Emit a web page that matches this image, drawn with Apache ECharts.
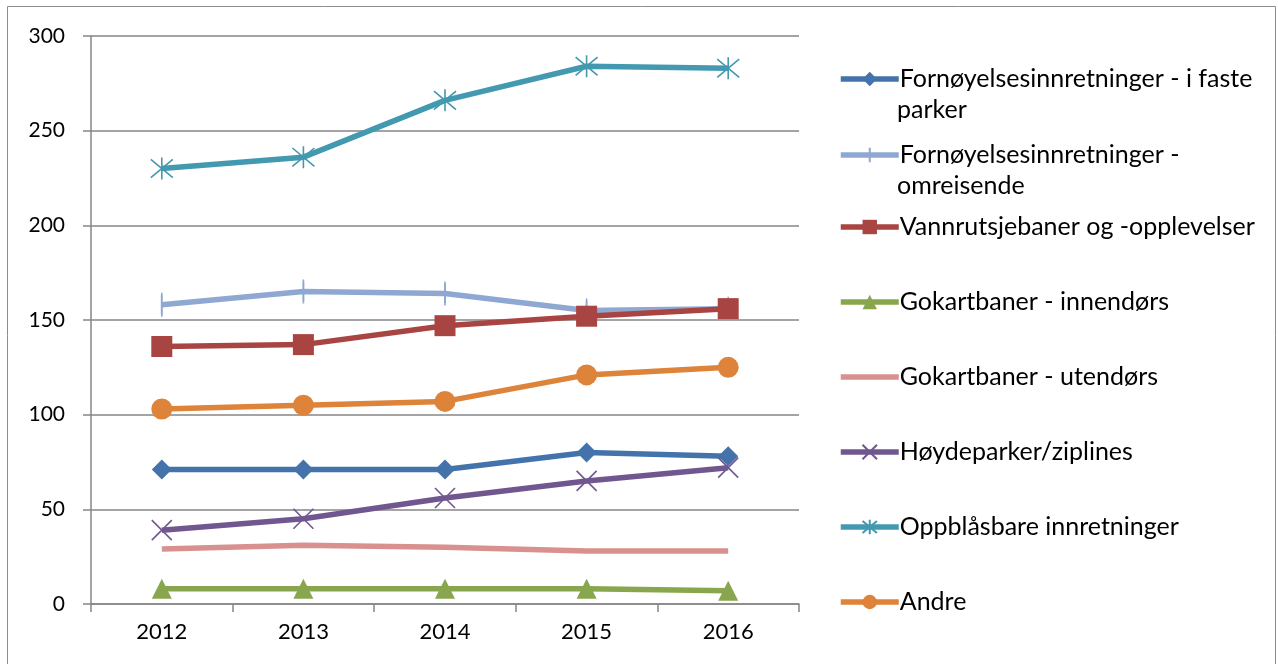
<!DOCTYPE html>
<html>
<head>
<meta charset="utf-8">
<title>Fornøyelsesinnretninger 2012-2016</title>
<script src="https://cdn.jsdelivr.net/npm/echarts@6/dist/echarts.min.js"></script>
<style>
  html, body { margin: 0; padding: 0; background: #fff; }
  #main { width: 1278px; height: 664px; }
</style>
</head>
<body>
<div id="main"></div>
<script>
// data
var years = ['2012', '2013', '2014', '2015', '2016'];
var yTicks = [0, 50, 100, 150, 200, 250, 300];

var fasteParker   = [71, 71, 71, 80, 78];
var omreisende    = [158, 165, 164, 155, 156];
var vannrutsje    = [136, 137, 147, 152, 156];
var innendors     = [8, 8, 8, 8, 7];
var utendors      = [29, 31, 30, 28, 28];
var hoydeparker   = [39, 45, 56, 65, 72];
var oppblasbare   = [230, 236, 266, 284, 283];
var andre         = [103, 105, 107, 121, 125];

var names = [
    'Fornøyelsesinnretninger - i faste',
    'Fornøyelsesinnretninger -',
    'Vannrutsjebaner og -opplevelser',
    'Gokartbaner - innendørs',
    'Gokartbaner - utendørs',
    'Høydeparker/ziplines',
    'Oppblåsbare innretninger',
    'Andre'
];
// second line of the wrapped legend names
var secondLines = ['parker', 'omreisende', '', '', '', '', '', ''];

var FONT = 'Lato, "Open Sans", sans-serif';
var LEGEND_FS = 25;

var myChart = echarts.init(document.getElementById('main'));

var plusPath = 'path://M0,-10L0,10M-10,0L10,0';
var crossPath = 'path://M-10,-10L10,10M-10,10L10,-10';
var starPath = 'path://M-10,-10L10,10M-10,10L10,-10M0,-12L0,12';

function lineSeries(name, data, color, symbol, size, stroked) {
    var s = {
        name: name,
        type: 'line',
        data: data,
        symbol: symbol,
        symbolSize: size,
        showSymbol: symbol !== 'none',
        lineStyle: { color: color, width: 5.5 },
        itemStyle: { color: color },
        z: 3
    };
    if (stroked) {
        s.itemStyle = { color: 'none', borderColor: color, borderWidth: 1.6 };
    }
    return s;
}

var series = [
    lineSeries(names[0], fasteParker, '#4373AA', 'diamond', 20),
    lineSeries(names[1], omreisende, '#8EA8D2', plusPath, [2, 24], true),
    lineSeries(names[2], vannrutsje, '#A84441', 'rect', 21),
    lineSeries(names[3], innendors, '#88A64D', 'triangle', 20),
    lineSeries(names[4], utendors, '#D8918F', 'none', 0),
    lineSeries(names[5], hoydeparker, '#71578F', crossPath, 20, true),
    lineSeries(names[6], oppblasbare, '#4299B0', starPath, 22, true),
    lineSeries(names[7], andre, '#DD833A', 'circle', 21)
];

// one legend per entry so that rows sit where they do in the picture
var legendRows = [79, 155, 227, 302, 377, 452, 527, 602];
var LH = 31;
var legends = names.map(function (n, i) {
    var item = { name: n };
    if (i === 4) item.itemStyle = { opacity: 0 };
    return {
        data: [item],
        orient: 'vertical',
        left: 838,
        top: legendRows[i] - LH / 2,
        itemWidth: 58,
        itemHeight: 18,
        itemGap: 2,
        padding: 0,
        selectedMode: false,
        lineStyle: { width: 5.5 },
        textStyle: { fontFamily: FONT, fontSize: LEGEND_FS, color: '#000', lineHeight: LH, padding: [0, 0, 0, -4] }
    };
});

var graphics = [{
    type: 'rect',
    shape: { x: 7.5, y: 6.5, width: 1268, height: 700 },
    style: { fill: 'none', stroke: '#8c8c8c', lineWidth: 1 },
    silent: true
}];
secondLines.forEach(function (t, i) {
    if (!t) return;
    graphics.push({
        type: 'text',
        left: 897,
        top: legendRows[i] + 31 - LH / 2,
        style: { text: t, fontFamily: FONT, fontSize: LEGEND_FS, fill: '#000', lineHeight: LH }
    });
});

myChart.setOption({
    animation: false,
    backgroundColor: '#fff',
    legend: legends,
    graphic: graphics,
    grid: { left: 91, right: 479, top: 36, bottom: 60, containLabel: false },
    xAxis: {
        type: 'category',
        data: years,
        boundaryGap: true,
        axisLine: { lineStyle: { color: '#868686', width: 1.5 } },
        axisTick: { show: true, length: 8, lineStyle: { color: '#868686', width: 1.5 } },
        axisLabel: { fontFamily: FONT, fontSize: 22, color: '#000', margin: 17 }
    },
    yAxis: {
        type: 'value',
        min: yTicks[0],
        max: yTicks[yTicks.length - 1],
        interval: 50,
        axisLine: { show: true, lineStyle: { color: '#868686', width: 1.5 } },
        axisTick: { show: true, length: 8, lineStyle: { color: '#868686', width: 1.5 } },
        splitLine: { lineStyle: { color: '#868686', width: 1.5 } },
        axisLabel: { fontFamily: FONT, fontSize: 21, color: '#000', margin: 26 }
    },
    series: series
});
</script>
</body>
</html>
